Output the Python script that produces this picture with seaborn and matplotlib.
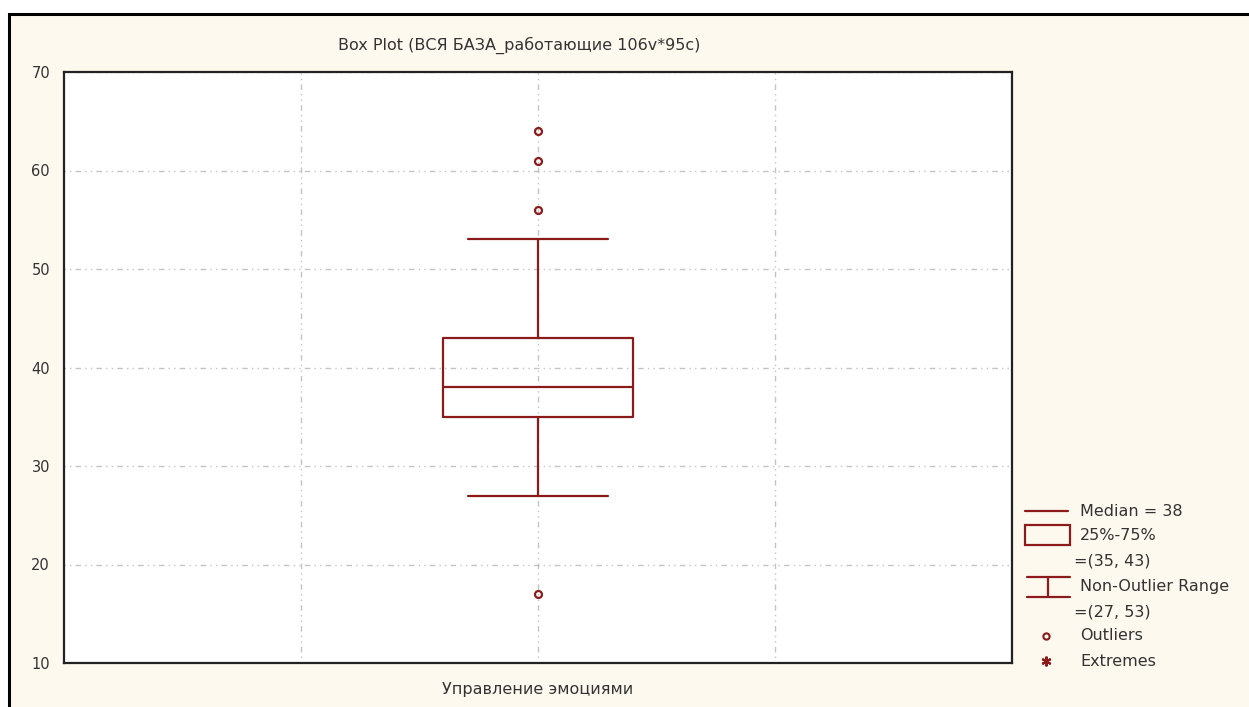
import numpy as np
import pandas as pd
import seaborn as sns
import matplotlib.pyplot as plt
from matplotlib.patches import Rectangle
from matplotlib.lines import Line2D

# values of "Управление эмоциями" (sample consistent with the picture)
scores = [17, 27, 30, 33, 35, 35, 36, 37, 37, 38, 39, 40, 42, 43, 43, 53, 56, 61, 64]
variable = "Управление эмоциями"
title = "Box Plot (ВСЯ БАЗА_работающие 106v*95c)"
yticks = [10, 20, 30, 40, 50, 60, 70]

dark_red = "#8b1a1a"
cream = "#fef9ee"
grid_col = "#c4c4c4"

sns.set_style("white")
plt.rcParams['font.family'] = ['DejaVu Sans']

df = pd.DataFrame({"var": variable, "value": scores})

fig = plt.figure(figsize=(12.49, 7.07), dpi=100)

# background frame in pixel coords
bg = fig.add_axes([0, 0, 1, 1], zorder=-1)
bg.set_xlim(0, 1249)
bg.set_ylim(707, 0)
bg.axis("off")
bg.add_patch(Rectangle((9, 14), 1260, 720, facecolor=cream, edgecolor="black", lw=2.2))

ax = fig.add_axes([64 / 1249, 1 - 663 / 707, (1012 - 64) / 1249, (663 - 72) / 707])
ax.set_facecolor("white")

sns.boxplot(data=df, x="var", y="value", ax=ax, width=0.8, fill=False,
            color=dark_red, linecolor=dark_red, linewidth=1.6, whis=1.5,
            capwidths=0.59,
            flierprops=dict(marker="o", markerfacecolor="none",
                            markeredgecolor=dark_red, markersize=5, markeredgewidth=1.6))

ax.set_xlim(-2, 2)
ax.set_ylim(10, 70)
ax.set_yticks(yticks)
ax.set_xticks([-1, 0, 1])
ax.set_xticklabels(["", variable, ""])
ax.set_xlabel("")
ax.set_ylabel("")
ax.grid(True, color=grid_col, linestyle=(0, (1, 3, 1, 3, 4, 3)), linewidth=1)
ax.set_axisbelow(True)
ax.tick_params(axis="both", direction="in", length=4, width=1.2, color="#222222",
               labelsize=10.5, labelcolor="#333333")
ax.tick_params(axis="y", pad=10)
ax.tick_params(axis="x", pad=14, labelsize=11.5)
for s in ax.spines.values():
    s.set_visible(True)
    s.set_color("#222222")
    s.set_linewidth(1.6)

fig.text(519 / 1249, 1 - 45 / 707, title, ha="center", va="center", fontsize=11.5, color="#333333")

# legend, drawn in pixel coords
q1, med, q3 = np.percentile(scores, [25, 50, 75])
iqr = q3 - q1
arr = np.array(scores)
lo = arr[arr >= q1 - 1.5 * iqr].min()
hi = arr[arr <= q3 + 1.5 * iqr].max()

txt = dict(fontsize=11.5, color="#333333", va="center", ha="left")
bg.add_line(Line2D([1025, 1068], [511, 511], color=dark_red, lw=1.6))
bg.text(1080, 511, f"Median = {med:g}", **txt)
bg.add_patch(Rectangle((1025, 525), 45, 20, facecolor="none", edgecolor=dark_red, lw=1.6))
bg.text(1080, 535, "25%-75%", **txt)
bg.text(1074, 561, f"=({q1:g}, {q3:g})", **txt)
bg.add_line(Line2D([1027, 1070], [577, 577], color=dark_red, lw=1.6))
bg.add_line(Line2D([1027, 1070], [597, 597], color=dark_red, lw=1.6))
bg.add_line(Line2D([1048, 1048], [577, 597], color=dark_red, lw=1.6))
bg.text(1080, 587, "Non-Outlier Range", **txt)
bg.text(1074, 612, f"=({lo:g}, {hi:g})", **txt)
bg.add_line(Line2D([1046], [636], marker="o", markersize=4.5, markerfacecolor="none",
                   markeredgecolor=dark_red, markeredgewidth=1.5, lw=0))
bg.text(1080, 636, "Outliers", **txt)
bg.add_line(Line2D([1046], [661], marker=(6, 2, 0), markersize=7, markeredgewidth=1.5,
                   color=dark_red, lw=0))
bg.text(1080, 661, "Extremes", **txt)

fig.savefig("out.png", dpi=100)
